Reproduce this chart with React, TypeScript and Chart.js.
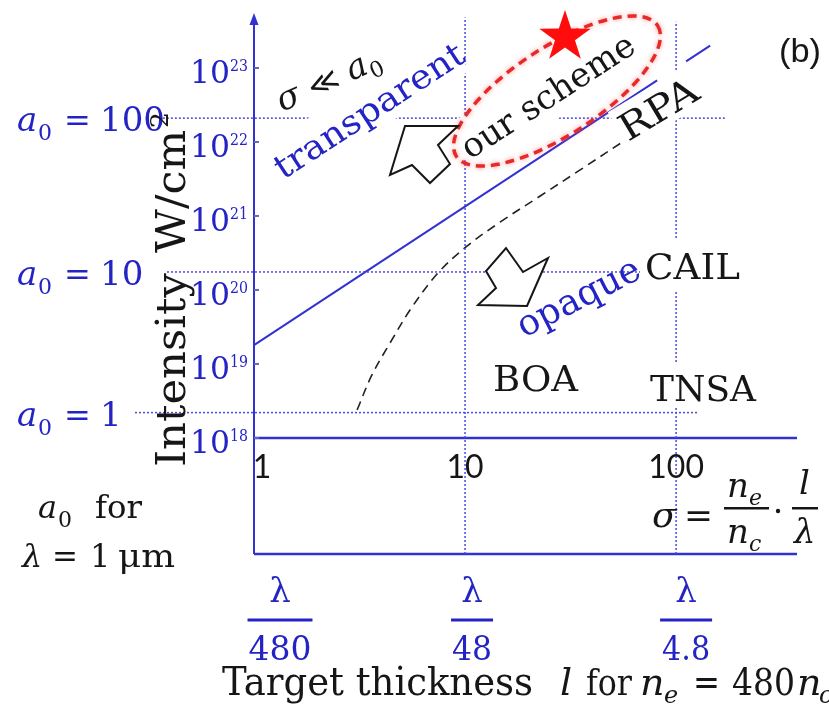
import React, { useEffect, useRef } from 'react';
import { Chart, registerables } from 'chart.js';
Chart.register(...registerables);

// ---- axes ranges ----
const X_MIN = 1;
const X_MAX = 374;
const Y_MIN = 2.7e16;
const Y_MAX = 5.2e23;

// ---- ticks / labels ----
const X_TICKS = [1, 10, 100];
const X_TICK_LABELS = ['1', '10', '100'];
const WAVELENGTH_DIVISORS = ['480', '48', '4.8'];
const Y_DECADES = [18, 19, 20, 21, 22, 23];

// ---- a0 reference levels (dotted horizontals) ----
const A0_LABELS = ['100', '10', '1'];
const A0_INTENSITY = [2.1e22, 1.75e20, 2.2e18];
const A0_LINE_START = [0.37, 0.387, 0.273];
const A0_LINE_END = [174, 67.5, 126];

// ---- dotted verticals ----
const GRID_X = [10, 100];
const GRID_TOP = [4.8e23, 4.2e23];

// ---- solid floor line ----
const FLOOR_INTENSITY = 1e18;

// ---- transparency threshold (blue solid, broken behind the RPA label) ----
const THRESH_X = [1, 81.3, 96, 111.5, 145];
const THRESH_Y = [1.8e19, 6.8e22, null, 1.23e23, 2.0e23];

// ---- RPA boundary (black dashed) ----
const RPA_X = [3.08, 3.62, 4.41, 5.61, 7.45, 10.1, 14.7, 22.7, 35.1, 58.6];
const RPA_Y = [2.39e18, 7.1e18, 1.92e19, 5.89e19, 1.7e20, 3.81e20, 8.3e20, 1.86e21, 4.19e21, 1.1e22];

const SERIF = "'DejaVu Serif', 'Liberation Serif', 'DejaVu Sans', serif";
const SANS = "'Liberation Sans', Arial, sans-serif";
const CAL = "Lato, 'Open Sans', sans-serif";
const BLUE_T = '#2424c4';
const BLUE_L = '#3232d2';
const DOT = '#4a4adc';
const BLACK = '#161616';

function txt(ctx: CanvasRenderingContext2D, s: string, x: number, y: number, size: number, color: string, o: any = {}) {
  ctx.save();
  ctx.translate(x, y);
  if (o.rot) ctx.rotate((o.rot * Math.PI) / 180);
  ctx.font = `${o.italic ? 'italic ' : ''}${o.bold ? 'bold ' : ''}${size}px ${o.family || SERIF}`;
  ctx.fillStyle = color;
  ctx.textBaseline = 'alphabetic';
  ctx.textAlign = 'left';
  const m = ctx.measureText(s).width;
  const sx = o.w ? o.w / m : 1;
  const dw = m * sx;
  let ox = 0;
  if (o.align === 'center') ox = -dw / 2;
  else if (o.align === 'right') ox = -dw;
  ctx.translate(ox, 0);
  ctx.scale(sx, 1);
  ctx.fillText(s, 0, 0);
  ctx.restore();
}

function whiteRot(ctx: CanvasRenderingContext2D, x: number, y: number, rot: number, x0: number, y0: number, x1: number, y1: number) {
  ctx.save();
  ctx.translate(x, y);
  ctx.rotate((rot * Math.PI) / 180);
  ctx.fillStyle = '#ffffff';
  ctx.fillRect(x0, y0, x1 - x0, y1 - y0);
  ctx.restore();
}

function poly(ctx: CanvasRenderingContext2D, pts: number[][]) {
  ctx.beginPath();
  pts.forEach((p, i) => (i ? ctx.lineTo(p[0], p[1]) : ctx.moveTo(p[0], p[1])));
  ctx.closePath();
  ctx.fillStyle = '#ffffff';
  ctx.fill();
  ctx.strokeStyle = BLACK;
  ctx.lineWidth = 2;
  ctx.lineJoin = 'miter';
  ctx.stroke();
}

const ARROW_UP = [[405, 126], [458, 126], [438, 145], [450, 164], [430, 183], [412, 165], [390, 175]];
const ARROW_DOWN = [[527, 306], [548, 258], [523, 272], [506, 248], [486, 271], [496, 288], [478, 305]];

const overlay = {
  id: 'overlay',
  afterDatasetsDraw(chart: any) {
    const ctx = chart.ctx as CanvasRenderingContext2D;
    const xs = chart.scales.x;
    const ys = chart.scales.y;
    const X = (v: number) => xs.getPixelForValue(v);
    const Y = (v: number) => ys.getPixelForValue(v);

    // white backgrounds behind labels
    whiteRot(ctx, 283, 180, -33, -4, -38, 216, 10);
    whiteRot(ctx, 470, 160, -33, -4, -41, 204, 13);
    whiteRot(ctx, 628, 142, -31, -2, -36, 94, 6);
    ctx.fillStyle = '#ffffff';
    ctx.fillRect(640, 238, 106, 52);
    ctx.fillRect(645, 362, 116, 44);

    // y axis with arrow
    const ax = X(X_MIN);
    const yb = Y(Y_MIN);
    const yt = Y(Y_MAX);
    ctx.save();
    ctx.strokeStyle = BLUE_L;
    ctx.lineWidth = 2;
    ctx.beginPath();
    ctx.moveTo(ax, yb);
    ctx.lineTo(ax, yt + 6);
    ctx.stroke();
    ctx.fillStyle = BLUE_L;
    ctx.beginPath();
    ctx.moveTo(ax, yt - 2);
    ctx.lineTo(ax - 4.5, yt + 10);
    ctx.lineTo(ax + 4.5, yt + 10);
    ctx.closePath();
    ctx.fill();
    ctx.strokeStyle = '#5a6cb4';
    ctx.lineWidth = 2;
    Y_DECADES.forEach((d) => {
      const y = Y(Math.pow(10, d));
      ctx.beginPath();
      ctx.moveTo(ax, y);
      ctx.lineTo(ax + 5, y);
      ctx.stroke();
      txt(ctx, '10', ax - 24, y + 15, 32, BLUE_T, { align: 'right', w: 40 });
      txt(ctx, String(d), ax - 24, y + 3, 17, BLUE_T, { w: 18 });
    });
    ctx.restore();

    // a0 labels
    A0_INTENSITY.forEach((v, i) => {
      const yc = Y(v);
      txt(ctx, 'a', 17, yc + 13, 34, BLUE_T, { italic: true });
      txt(ctx, '0', 38, yc + 22, 22, BLUE_T);
      txt(ctx, '=', 64, yc + 13, 32, BLUE_T);
      txt(ctx, A0_LABELS[i], 100, yc + 13, 34, BLUE_T);
    });

    // Intensity label
    ctx.save();
    ctx.translate(185, 467);
    ctx.rotate(-Math.PI / 2);
    txt(ctx, 'Intensity', 0, 0, 41, BLACK, { w: 194 });
    txt(ctx, 'W/cm', 214, 0, 41, BLACK, { w: 123 });
    txt(ctx, '2', 339, -17, 25, BLACK);
    ctx.restore();

    // sigma << a0
    ctx.save();
    ctx.translate(282, 112);
    ctx.rotate((-24 * Math.PI) / 180);
    txt(ctx, 'σ', 0, 0, 34, BLACK, { italic: true });
    txt(ctx, '≪', 34, 0, 30, BLACK);
    txt(ctx, 'a', 76, 0, 34, BLACK, { italic: true });
    txt(ctx, '0', 97, 7, 22, BLACK);
    ctx.restore();

    // region labels
    txt(ctx, 'transparent', 283, 180, 34, BLUE_T, { rot: -33, w: 220 });
    txt(ctx, 'our scheme', 470, 160, 34, BLACK, { rot: -33, w: 200 });
    txt(ctx, 'RPA', 628, 142, 37, BLACK, { rot: -31, w: 86 });
    txt(ctx, 'opaque', 524, 338, 36, BLUE_T, { rot: -27, w: 134 });
    txt(ctx, 'CAIL', 645, 279, 36, BLACK, { w: 95 });
    txt(ctx, 'BOA', 493, 391, 36, BLACK, { w: 85 });
    txt(ctx, 'TNSA', 650, 401, 36, BLACK, { w: 106 });
    txt(ctx, '(b)', 800, 62, 34, BLACK, { family: SANS, align: 'center', w: 42 });

    // x tick labels
    X_TICKS.forEach((v, i) => {
      const cx = i === 0 ? X(v) + 8 : X(v);
      txt(ctx, X_TICK_LABELS[i], cx, 478, 32, BLACK, { family: CAL, align: 'center' });
    });

    // lambda fractions under the axis
    const fracOff = [26, 7, 10];
    const barW = [65, 42, 52];
    const digW = [63, 40, 48];
    X_TICKS.forEach((v, i) => {
      const cx = X(v) + fracOff[i];
      txt(ctx, 'λ', cx, 602, 34, BLUE_T, { align: 'center' });
      ctx.fillStyle = BLUE_T;
      ctx.fillRect(cx - barW[i] / 2, 618.5, barW[i], 3);
      txt(ctx, WAVELENGTH_DIVISORS[i], cx, 660, 34, BLUE_T, { align: 'center', w: digW[i] });
    });

    // sigma formula
    txt(ctx, 'σ', 652, 527, 36, BLACK, { italic: true });
    txt(ctx, '=', 684, 527, 34, BLACK, { w: 29 });
    txt(ctx, 'n', 727, 497, 34, BLACK, { italic: true });
    txt(ctx, 'e', 749, 505, 22, BLACK, { italic: true });
    ctx.fillStyle = BLACK;
    ctx.fillRect(724, 507, 45, 2.5);
    txt(ctx, 'n', 727, 543, 34, BLACK, { italic: true });
    txt(ctx, 'c', 749, 551, 22, BLACK, { italic: true });
    ctx.beginPath();
    ctx.arc(778, 511, 2.2, 0, Math.PI * 2);
    ctx.fill();
    txt(ctx, 'l', 799, 494, 34, BLACK, { italic: true });
    ctx.fillRect(792, 507, 26, 2.5);
    txt(ctx, 'λ', 794, 543, 34, BLACK, { italic: true });

    // a0 for lambda = 1 um
    txt(ctx, 'a', 38, 518, 32, BLACK, { italic: true });
    txt(ctx, '0', 58, 527, 22, BLACK);
    txt(ctx, 'for', 95, 518, 32, BLACK, { w: 47 });
    txt(ctx, 'λ', 22, 567, 32, BLACK, { italic: true });
    txt(ctx, '=', 52, 567, 32, BLACK, { w: 26 });
    txt(ctx, '1', 90, 567, 32, BLACK);
    txt(ctx, 'μm', 118, 567, 32, BLACK, { w: 57 });

    // x axis title
    txt(ctx, 'Target thickness', 222, 695, 40, BLACK, { w: 311 });
    txt(ctx, 'l', 560, 695, 38, BLACK, { italic: true });
    txt(ctx, 'for', 586, 695, 35, BLACK, { w: 46 });
    txt(ctx, 'n', 640, 695, 38, BLACK, { italic: true });
    txt(ctx, 'e', 664, 703, 24, BLACK, { italic: true });
    txt(ctx, '=', 693, 695, 38, BLACK, { w: 27 });
    txt(ctx, '480', 732, 695, 38, BLACK, { w: 63 });
    txt(ctx, 'n', 797, 695, 38, BLACK, { italic: true });
    txt(ctx, 'c', 819, 703, 24, BLACK, { italic: true });

    // red dashed ellipse
    ctx.save();
    ctx.translate(557, 91);
    ctx.rotate((-33 * Math.PI) / 180);
    ctx.beginPath();
    ctx.ellipse(0, 0, 120, 44, 0, 0, Math.PI * 2);
    ctx.setLineDash([9, 6]);
    ctx.lineWidth = 3.5;
    ctx.strokeStyle = '#e52a2a';
    ctx.shadowColor = 'rgba(255,60,60,0.6)';
    ctx.shadowBlur = 5;
    ctx.stroke();
    ctx.restore();

    // star
    ctx.save();
    ctx.beginPath();
    for (let k = 0; k < 10; k++) {
      const r = k % 2 === 0 ? 27 : 10.5;
      const a = -Math.PI / 2 + (k * Math.PI) / 5;
      const px = 565 + r * Math.cos(a);
      const py = 37 + r * Math.sin(a);
      k ? ctx.lineTo(px, py) : ctx.moveTo(px, py);
    }
    ctx.closePath();
    ctx.fillStyle = '#ff0d0d';
    ctx.fill();
    ctx.restore();

    // hollow arrows
    ctx.save();
    poly(ctx, ARROW_UP);
    poly(ctx, ARROW_DOWN);
    ctx.restore();
  },
};

function line(data: { x: number; y: number | null }[], extra: any) {
  return { data, showLine: true, pointRadius: 0, fill: false, clip: false, spanGaps: false, ...extra };
}

export default function App() {
  const ref = useRef<HTMLCanvasElement>(null);
  useEffect(() => {
    const datasets: any[] = [];
    A0_INTENSITY.forEach((v, i) =>
      datasets.push(line([{ x: A0_LINE_START[i], y: v }, { x: A0_LINE_END[i], y: v }], { borderColor: DOT, borderWidth: 1.5, borderDash: [2, 2] }))
    );
    GRID_X.forEach((v, i) =>
      datasets.push(line([{ x: v, y: Y_MIN }, { x: v, y: GRID_TOP[i] }], { borderColor: DOT, borderWidth: 1.5, borderDash: [2, 2] }))
    );
    datasets.push(line([{ x: X_MIN, y: FLOOR_INTENSITY }, { x: X_MAX, y: FLOOR_INTENSITY }], { borderColor: BLUE_L, borderWidth: 2.5 }));
    datasets.push(line([{ x: X_MIN, y: Y_MIN }, { x: X_MAX, y: Y_MIN }], { borderColor: BLUE_L, borderWidth: 2.5 }));
    datasets.push(line(THRESH_X.map((x, i) => ({ x, y: THRESH_Y[i] })), { borderColor: BLUE_L, borderWidth: 2 }));
    datasets.push(line(RPA_X.map((x, i) => ({ x, y: RPA_Y[i] })), { borderColor: '#222222', borderWidth: 1.6, borderDash: [9, 6], tension: 0.35 }));

    const chart = new Chart(ref.current as HTMLCanvasElement, {
      type: 'scatter',
      data: { datasets },
      options: {
        responsive: false,
        animation: false,
        devicePixelRatio: 1,
        layout: { padding: { left: 254, right: 32, top: 15, bottom: 151 } },
        plugins: { legend: { display: false }, tooltip: { enabled: false } },
        scales: {
          x: { type: 'logarithmic', min: X_MIN, max: X_MAX, display: false },
          y: { type: 'logarithmic', min: Y_MIN, max: Y_MAX, display: false },
        },
      } as any,
      plugins: [overlay],
    });
    return () => chart.destroy();
  }, []);
  return (
    <div style={{ position: 'absolute', left: 0, top: 0, width: 829, height: 705, background: '#ffffff' }}>
      <canvas ref={ref} width={829} height={705} style={{ display: 'block', width: 829, height: 705 }} />
    </div>
  );
}
